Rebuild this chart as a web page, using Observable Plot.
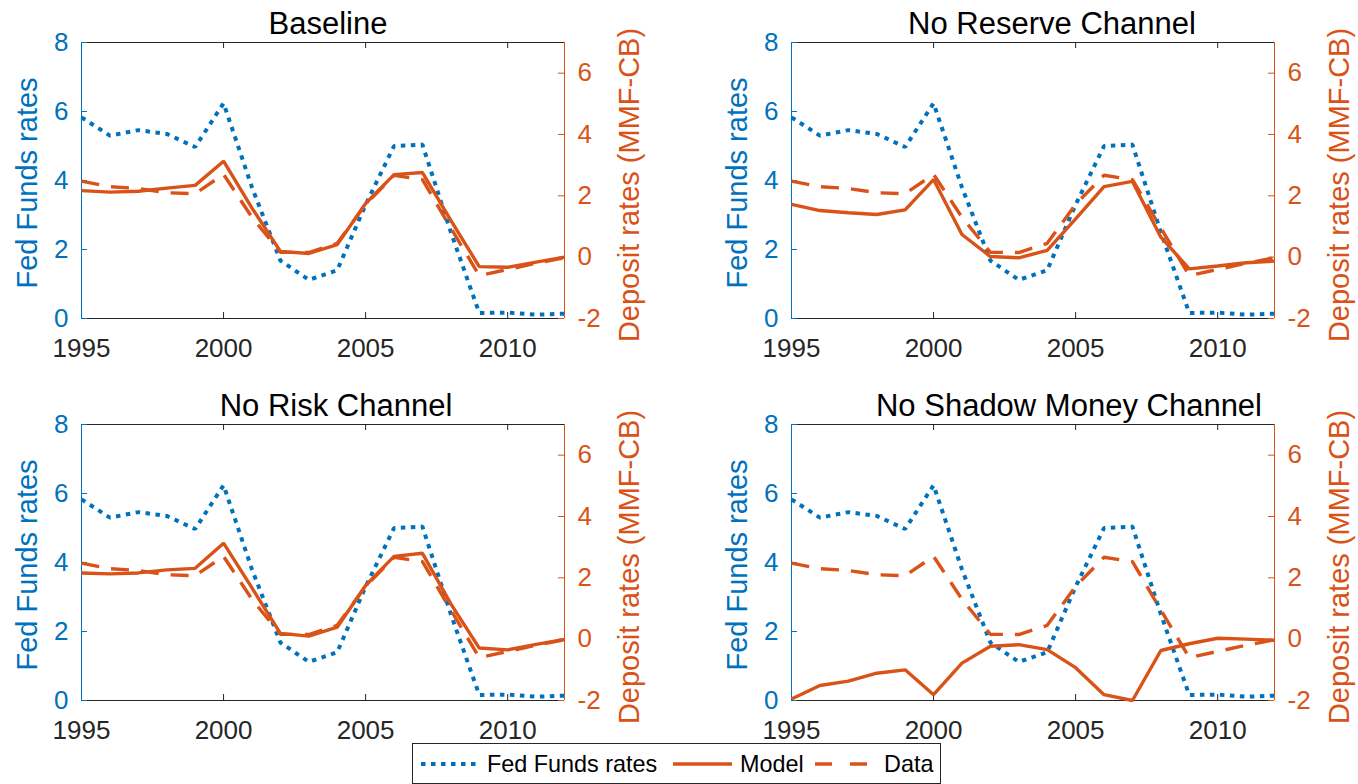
<!DOCTYPE html>
<html>
<head>
<meta charset="utf-8">
<script src="https://cdn.jsdelivr.net/npm/d3@7"></script>
<script src="https://cdn.jsdelivr.net/npm/@observablehq/plot@0.6"></script>
<style>
  html, body { margin: 0; padding: 0; background: #fff; }
  body { width: 1358px; height: 784px; overflow: hidden; position: relative;
         font-family: "Liberation Sans", Arial, Helvetica, sans-serif; }
  .panel { position: absolute; width: 644px; height: 363px; }
  .panel svg { position: absolute; left: 0; top: 0; overflow: visible; }
  .title { position: absolute; font-size: 31px; line-height: 1; color: #000; white-space: nowrap;
           transform: translateX(-50%); }
  .ylab { position: absolute; font-size: 29px; line-height: 1; white-space: nowrap;
          transform: translate(-50%, -50%) rotate(-90deg); }
  #legend { position: absolute; left: 412px; top: 743px; }
</style>
</head>
<body>
<div id="root"></div>
<script>
// ---------------- data ----------------
const years = [1995, 1996, 1997, 1998, 1999, 2000, 2001, 2002, 2003, 2004, 2005, 2006, 2007, 2008, 2009, 2010, 2011, 2012];
const fedFunds = [5.83, 5.30, 5.46, 5.35, 4.97, 6.24, 3.80, 1.68, 1.12, 1.40, 3.30, 5.00, 5.04, 2.50, 0.16, 0.17, 0.11, 0.14];
const depositData = [2.48, 2.30, 2.24, 2.10, 2.07, 2.70, 1.30, 0.16, 0.15, 0.45, 1.72, 2.67, 2.53, 0.95, -0.60, -0.40, -0.20, -0.02];
const modelBaseline = [2.17, 2.12, 2.15, 2.25, 2.34, 3.13, 1.60, 0.19, 0.12, 0.41, 1.75, 2.69, 2.76, 1.20, -0.31, -0.33, -0.16, 0.00];
const modelNoReserve = [1.72, 1.52, 1.45, 1.39, 1.54, 2.53, 0.74, 0.02, -0.02, 0.22, 1.25, 2.30, 2.47, 0.65, -0.38, -0.29, -0.18, -0.13];
const modelNoRisk = [2.16, 2.13, 2.16, 2.26, 2.31, 3.13, 1.67, 0.19, 0.10, 0.39, 1.75, 2.70, 2.80, 1.15, -0.29, -0.35, -0.17, -0.01];
const modelNoShadow = [-1.95, -1.51, -1.37, -1.11, -1.00, -1.81, -0.78, -0.23, -0.18, -0.34, -0.93, -1.81, -2.00, -0.37, -0.15, 0.03, 0.00, -0.04];

const panelTitles = ["Baseline", "No Reserve Channel", "No Risk Channel", "No Shadow Money Channel"];
const panelModels = [modelBaseline, modelNoReserve, modelNoRisk, modelNoShadow];

const xTicks = [1995, 2000, 2005, 2010];
const leftTicks = [0, 2, 4, 6, 8];
const rightTicks = [-2, 0, 2, 4, 6];
const leftLabel = "Fed Funds rates";
const rightLabel = "Deposit rates (MMF-CB)";
const legendLabels = ["Fed Funds rates", "Model", "Data"];

// ---------------- layout / style ----------------
const BLUE = "#0072BD", ORANGE = "#D95319", DARK = "#262626";
const W = 644, H = 363, ML = 81, MR = 80, MT = 42, MB = 45;
const FW = W - ML - MR, FH = H - MT - MB;
const layout = [
  {left: 0,   top: 0,   titleX: 328,  titleY: 7.6},
  {left: 710, top: 0,   titleX: 1052, titleY: 7.6},
  {left: 0,   top: 382, titleX: 336,  titleY: 389.6},
  {left: 710, top: 382, titleX: 1069, titleY: 389.6}
];
const FONT = '"Liberation Sans", Arial, Helvetica, sans-serif';
const baseStyle = {background: "transparent", fontFamily: FONT, fontSize: "26px", overflow: "visible"};

const root = document.getElementById("root");

panelTitles.forEach((title, i) => {
  const L = layout[i];
  const rows = years.map((year, j) => ({year, ff: fedFunds[j], model: panelModels[i][j], data: depositData[j]}));

  const div = document.createElement("div");
  div.className = "panel";
  div.style.left = L.left + "px";
  div.style.top = L.top + "px";

  const left = Plot.plot({
    width: W, height: H, marginLeft: ML, marginRight: MR, marginTop: MT, marginBottom: MB,
    style: baseStyle,
    x: {domain: [1995, 2012]},
    y: {domain: [0, 8]},
    marks: [
      Plot.ruleY([8], {stroke: DARK, strokeWidth: 1}),
      Plot.ruleY([0], {stroke: DARK, strokeWidth: 1}),
      Plot.ruleX(xTicks, {stroke: DARK, insetTop: FH - 6}),
      Plot.ruleX(xTicks, {stroke: DARK, insetBottom: FH - 6}),
      Plot.ruleX([1995], {stroke: BLUE, strokeWidth: 1}),
      Plot.ruleY(leftTicks, {stroke: BLUE, insetRight: FW - 6}),
      Plot.axisX({ticks: xTicks, tickSize: 0, tickPadding: 20, tickFormat: d => String(d), color: DARK, label: null}),
      Plot.axisY({ticks: leftTicks, tickSize: 0, tickPadding: 13, tickFormat: d => String(d), color: BLUE, label: null}),
      Plot.line(rows, {x: "year", y: "ff", stroke: BLUE, strokeWidth: 4, strokeDasharray: "4.5,5.5",
                       strokeLinecap: "butt", strokeLinejoin: "miter"})
    ]
  });

  const right = Plot.plot({
    width: W, height: H, marginLeft: ML, marginRight: MR, marginTop: MT, marginBottom: MB,
    style: baseStyle,
    x: {domain: [1995, 2012], axis: null},
    y: {domain: [-2, 7]},
    marks: [
      Plot.ruleX([2012], {stroke: ORANGE, strokeWidth: 1}),
      Plot.ruleY(rightTicks, {stroke: ORANGE, insetLeft: FW - 6}),
      Plot.axisY({anchor: "right", ticks: rightTicks, tickSize: 0, tickPadding: 13, tickFormat: d => String(d), color: ORANGE, label: null}),
      Plot.line(rows, {x: "year", y: "model", stroke: ORANGE, strokeWidth: 3.4,
                       strokeLinecap: "butt", strokeLinejoin: "miter"}),
      Plot.line(rows, {x: "year", y: "data", stroke: ORANGE, strokeWidth: 3.4, strokeDasharray: "18,12",
                       strokeLinecap: "butt", strokeLinejoin: "miter"})
    ]
  });

  div.appendChild(left);
  div.appendChild(right);
  root.appendChild(div);

  const t = document.createElement("div");
  t.className = "title";
  t.textContent = title;
  t.style.left = L.titleX + "px";
  t.style.top = L.titleY + "px";
  root.appendChild(t);

  const yl = document.createElement("div");
  yl.className = "ylab";
  yl.textContent = leftLabel;
  yl.style.color = BLUE;
  yl.style.left = (L.left + ML - 54) + "px";
  yl.style.top = (L.top + MT + 141) + "px";
  root.appendChild(yl);

  const yr = document.createElement("div");
  yr.className = "ylab";
  yr.textContent = rightLabel;
  yr.style.color = ORANGE;
  yr.style.left = (L.left + ML + FW + 65) + "px";
  yr.style.top = (L.top + MT + 143) + "px";
  root.appendChild(yr);
});

// ---------------- legend ----------------
const NS = "http://www.w3.org/2000/svg";
const lg = document.createElementNS(NS, "svg");
lg.setAttribute("id", "legend");
lg.setAttribute("width", 530);
lg.setAttribute("height", 41);
lg.style.fontFamily = FONT;
function el(tag, attrs, text) {
  const e = document.createElementNS(NS, tag);
  for (const k in attrs) e.setAttribute(k, attrs[k]);
  if (text) e.textContent = text;
  lg.appendChild(e);
  return e;
}
el("rect", {x: 0.5, y: 0.5, width: 528, height: 40, fill: "#fff", stroke: DARK, "stroke-width": 1});
el("line", {x1: 9, x2: 69, y1: 21, y2: 21, stroke: BLUE, "stroke-width": 4, "stroke-dasharray": "4.5,5.5"});
el("text", {x: 75, y: 29, "font-size": 23.4, fill: "#000"}, legendLabels[0]);
el("line", {x1: 261, x2: 320, y1: 21, y2: 21, stroke: ORANGE, "stroke-width": 3.4});
el("text", {x: 328, y: 29, "font-size": 23.4, fill: "#000"}, legendLabels[1]);
el("line", {x1: 403, x2: 455, y1: 21, y2: 21, stroke: ORANGE, "stroke-width": 3.4, "stroke-dasharray": "17,18"});
el("text", {x: 472, y: 29, "font-size": 23.4, fill: "#000"}, legendLabels[2]);
document.body.appendChild(lg);
</script>
</body>
</html>
